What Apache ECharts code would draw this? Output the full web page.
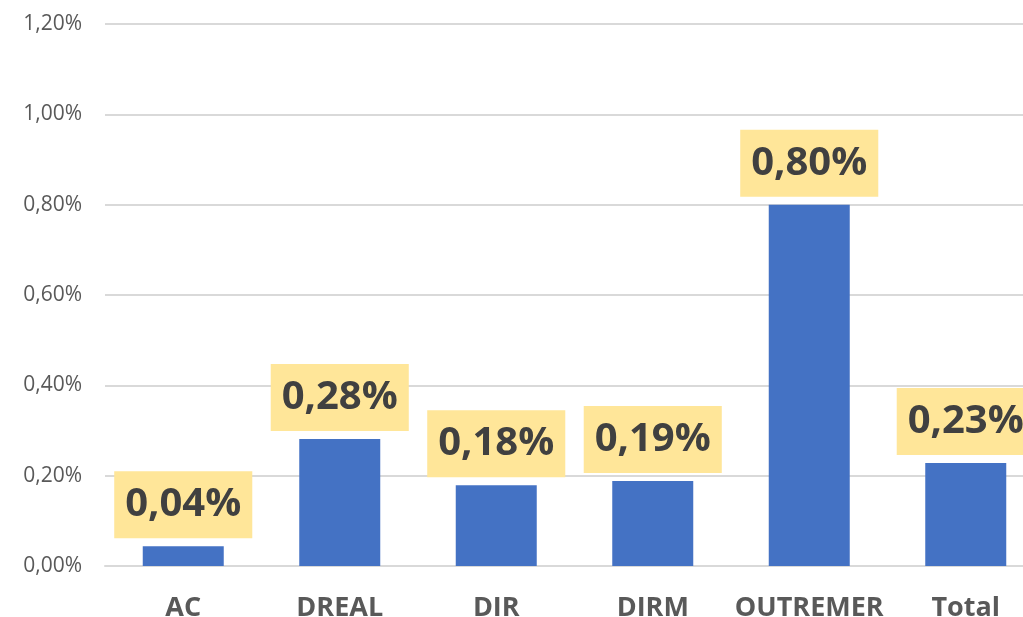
<!DOCTYPE html>
<html>
<head>
<meta charset="utf-8">
<script src="https://cdn.jsdelivr.net/npm/echarts@6/dist/echarts.min.js"></script>
<style>
  html, body { margin: 0; padding: 0; background: #ffffff; }
  #chart { width: 1023px; height: 617px; }
</style>
</head>
<body>
<div id="chart"></div>
<script>
// Share per service (percent)
const categories = ['AC', 'DREAL', 'DIR', 'DIRM', 'OUTREMER', 'Total'];
const rates = [0.044, 0.281, 0.179, 0.188, 0.80, 0.228];
const yTicks = { min: 0, max: 1.2, interval: 0.2 };

const fmtPct = v => v.toFixed(2).replace('.', ',') + '%';

const chart = echarts.init(document.getElementById('chart'), null, { renderer: 'canvas' });
chart.setOption({
  animation: false,
  backgroundColor: '#ffffff',
  // plot area runs slightly past the right edge of the canvas
  grid: { left: 105, right: -21, top: 24, bottom: 51, outerBoundsMode: 'none', containLabel: false },
  xAxis: {
    type: 'category',
    data: categories,
    axisLine: { show: true, lineStyle: { color: '#d9d9d9', width: 2 } },
    axisTick: { show: false },
    axisLabel: {
      interval: 0,
      margin: 29,
      color: '#595959',
      fontFamily: 'Open Sans',
      fontWeight: 'bold',
      fontSize: 27
    }
  },
  yAxis: {
    type: 'value',
    min: yTicks.min,
    max: yTicks.max,
    interval: yTicks.interval,
    axisLine: { show: false },
    axisTick: { show: false },
    splitLine: { lineStyle: { color: '#d9d9d9', width: 2 } },
    axisLabel: {
      margin: 23,
      color: '#595959',
      fontFamily: 'Open Sans',
      fontSize: 21,
      formatter: v => fmtPct(v)
    }
  },
  series: [{
    type: 'bar',
    data: rates,
    barWidth: 81,
    itemStyle: { color: '#4472c4' },
    label: {
      show: true,
      position: 'top',
      distance: 8,
      formatter: p => fmtPct(p.value),
      color: '#404040',
      fontFamily: 'Open Sans',
      fontWeight: 'bold',
      fontSize: 40,
      lineHeight: 45,
      backgroundColor: '#ffe699',
      padding: [11, 11, 11, 11]
    }
  }]
});
</script>
</body>
</html>
